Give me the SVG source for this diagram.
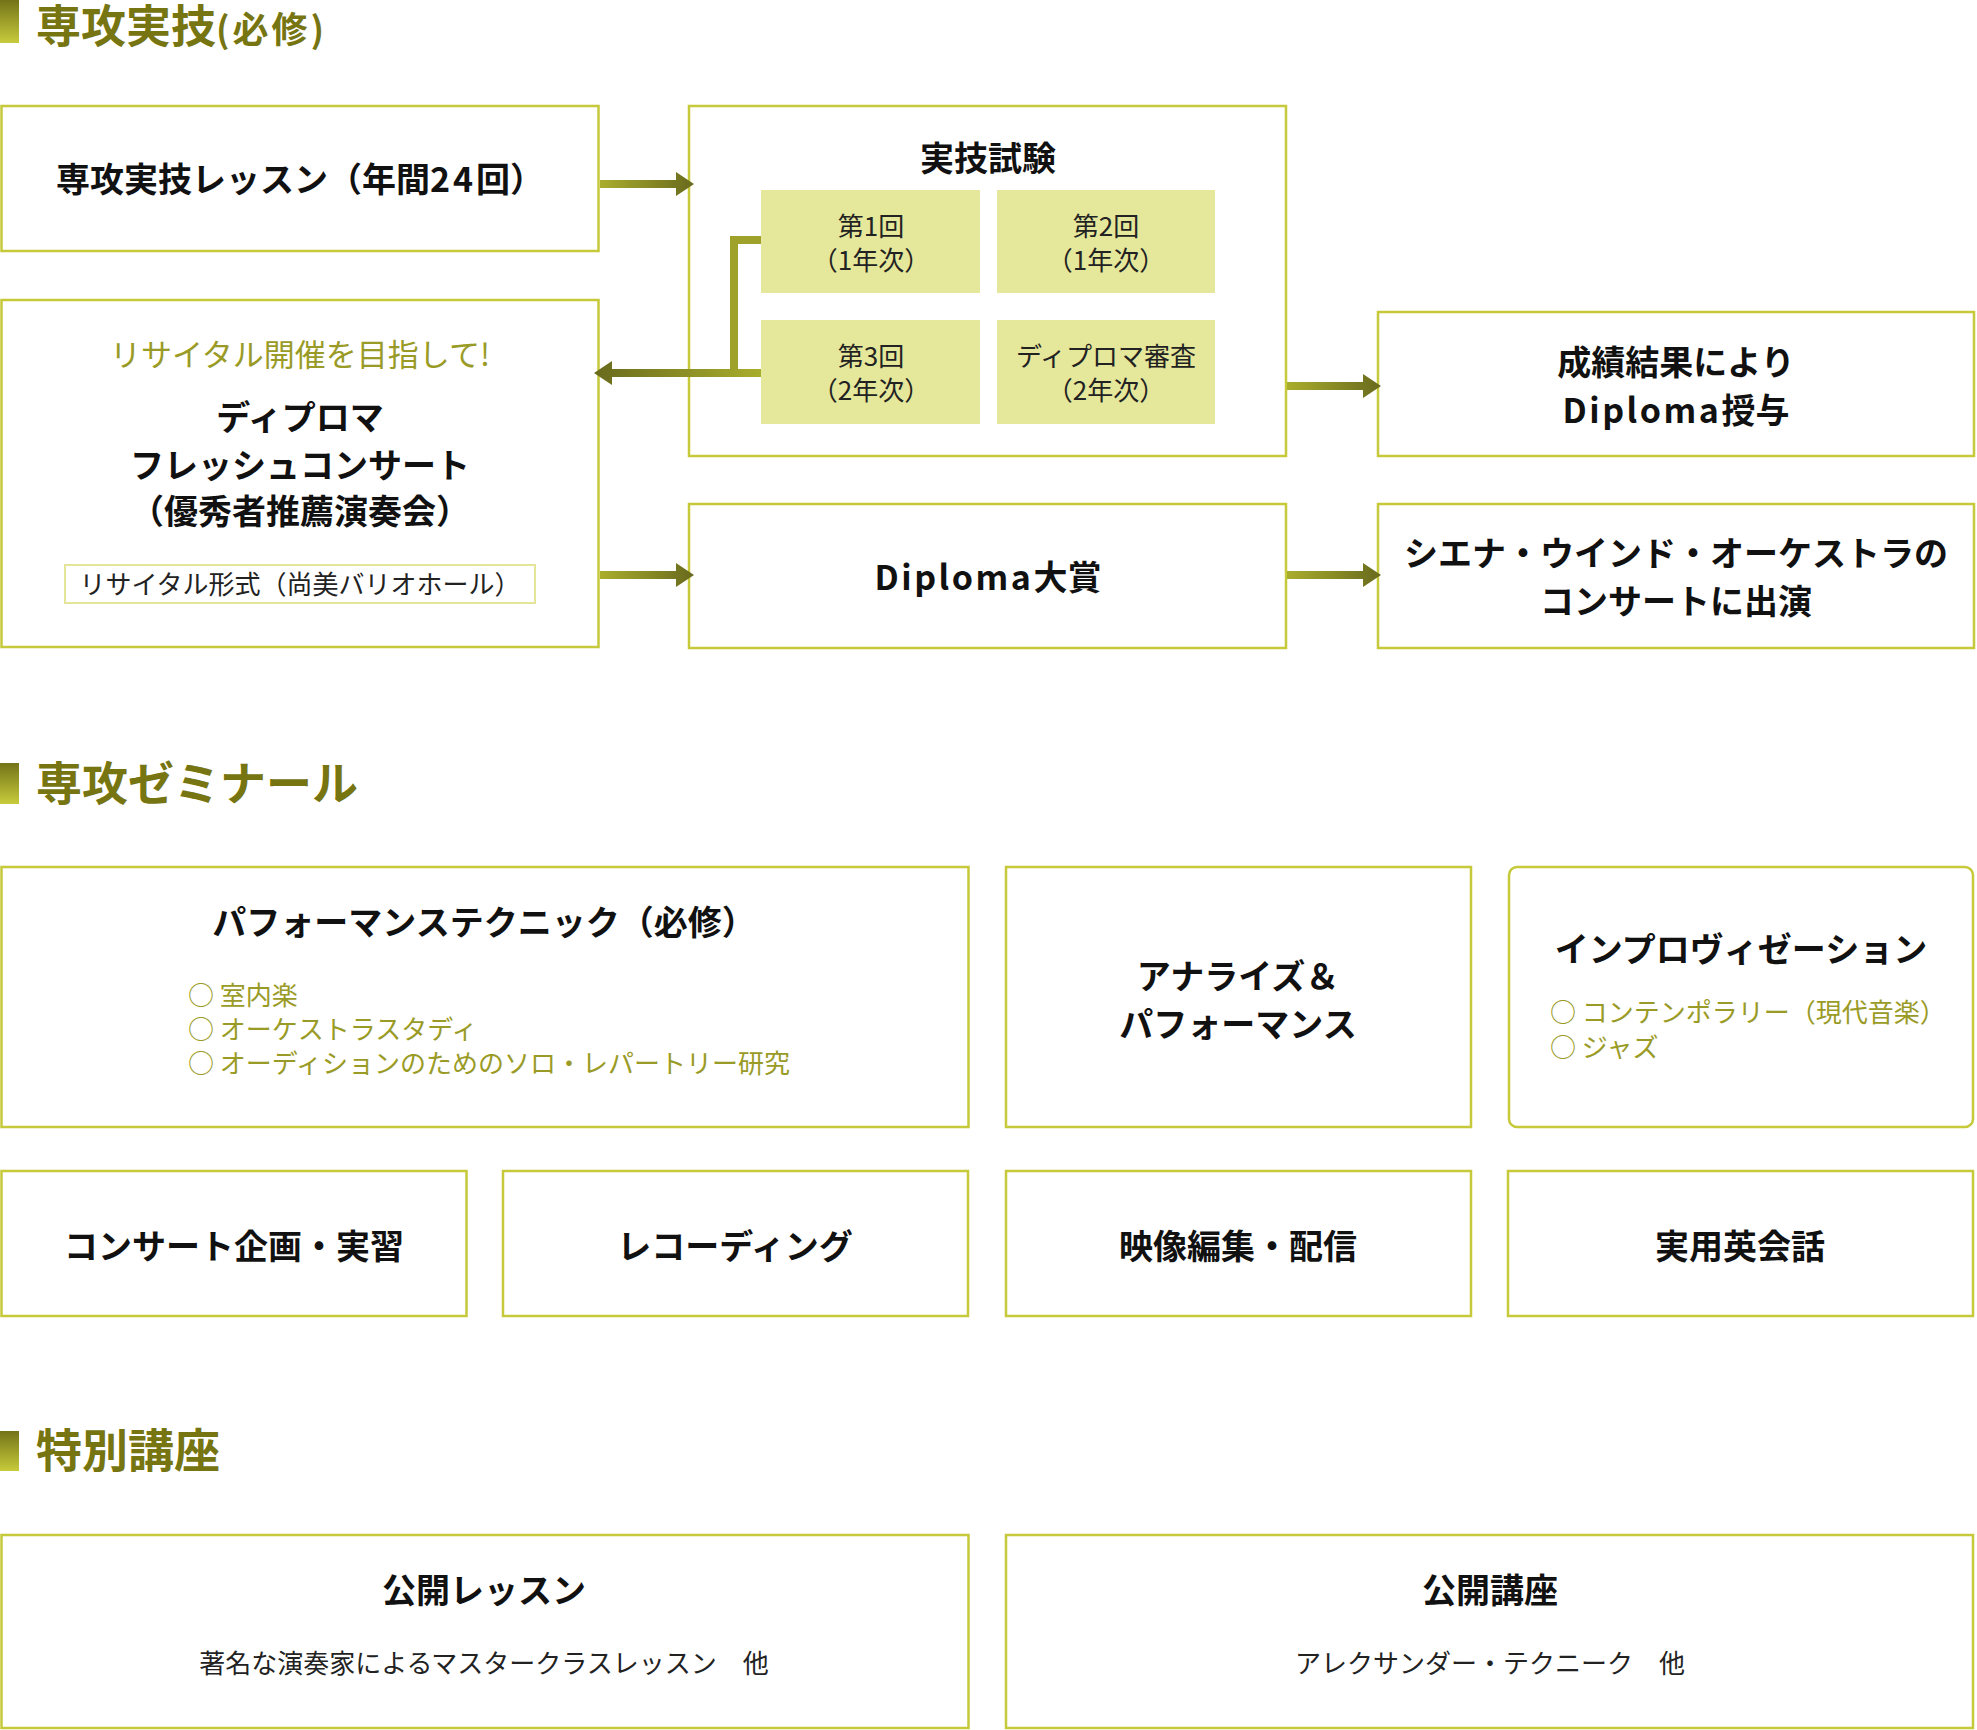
<svg xmlns="http://www.w3.org/2000/svg" width="1977" height="1730" viewBox="0 0 1977 1730">
<style>
.box{fill:#fff;stroke:#c5c93a;stroke-width:2.5}
.cell{fill:#e5e79b}
.sub{fill:#fff;stroke:#e2e59a;stroke-width:2}
.h{font-family:"Noto Sans CJK JP","Noto Sans",sans-serif;font-weight:700;fill:#767512}
.b{font-family:"Noto Sans CJK JP","Noto Sans",sans-serif;font-weight:700;font-size:34px;fill:#111;text-anchor:middle}
.r{font-family:"Noto Sans CJK JP","Noto Sans",sans-serif;font-weight:400;font-size:26px;fill:#222;text-anchor:middle}
.o{font-family:"Noto Sans CJK JP","Noto Sans",sans-serif;font-weight:400;font-size:26px;fill:#9a9b26}
.lat{letter-spacing:2.5px}
</style>
<defs>
<linearGradient id="bar" x1="0" y1="0" x2="0" y2="1"><stop offset="0" stop-color="#737318"/><stop offset="1" stop-color="#c7cb3b"/></linearGradient>
<linearGradient id="ar" x1="0" y1="0" x2="1" y2="0"><stop offset="0" stop-color="#a9ad2c"/><stop offset="1" stop-color="#696a1d"/></linearGradient>
<linearGradient id="al" x1="1" y1="0" x2="0" y2="0"><stop offset="0" stop-color="#a9ad2c"/><stop offset="1" stop-color="#696a1d"/></linearGradient>
</defs>
<rect width="1977" height="1730" fill="#fff"/>

<g id="heading1">
<rect x="0" y="0" width="19" height="43" fill="url(#bar)"/>
<text class="h" x="36" y="43" font-size="45">専攻実技<tspan font-size="36" letter-spacing="3px">(必修)</tspan></text>
</g>
<g id="heading2">
<rect x="0" y="763" width="19" height="41" fill="url(#bar)"/>
<text class="h" x="36" y="800" font-size="46">専攻ゼミナール</text>
</g>
<g id="heading3">
<rect x="0" y="1431" width="19" height="40" fill="url(#bar)"/>
<text class="h" x="36" y="1467" font-size="46">特別講座</text>
</g>

<g id="lesson">
<rect class="box" x="1.5" y="106" width="597" height="145"/>
<text class="b" x="300" y="192">専攻実技レッスン（年間<tspan letter-spacing="3px">24</tspan>回）</text>
</g>

<g id="exam">
<rect class="box" x="689" y="106" width="597" height="350"/>
<text class="b" x="988" y="171">実技試験</text>
<rect class="cell" x="761" y="190" width="219" height="103"/>
<rect class="cell" x="997" y="190" width="218" height="103"/>
<rect class="cell" x="761" y="320" width="219" height="104"/>
<rect class="cell" x="997" y="320" width="218" height="104"/>
<text class="r" x="871" y="236">第1回</text>
<text class="r" x="871" y="270">（1年次）</text>
<text class="r" x="1106" y="236">第2回</text>
<text class="r" x="1106" y="270">（1年次）</text>
<text class="r" x="871" y="366">第3回</text>
<text class="r" x="871" y="400">（2年次）</text>
<text class="r" x="1106" y="366">ディプロマ審査</text>
<text class="r" x="1106" y="400">（2年次）</text>
</g>

<g id="recital">
<rect class="box" x="1.5" y="300" width="597" height="347"/>
<text class="o" x="300" y="366" style="font-size:31px;text-anchor:middle">リサイタル開催を目指して!</text>
<text class="b" x="300" y="430">ディプロマ</text>
<text class="b" x="300" y="478">フレッシュコンサート</text>
<text class="b" x="300" y="524">（優秀者推薦演奏会）</text>
<rect class="sub" x="65" y="565" width="470" height="38"/>
<text class="r" x="300" y="594">リサイタル形式（尚美バリオホール）</text>
</g>

<g id="award">
<rect class="box" x="689" y="504" width="597" height="144"/>
<text class="b" x="988" y="590"><tspan class="lat">Diploma</tspan>大賞</text>
</g>

<g id="diploma">
<rect class="box" x="1378" y="312" width="596" height="144"/>
<text class="b" x="1676" y="375">成績結果により</text>
<text class="b" x="1676" y="423"><tspan class="lat">Diploma</tspan>授与</text>
</g>

<g id="siena">
<rect class="box" x="1378" y="504" width="596" height="144"/>
<text class="b" x="1676" y="566">シエナ・ウインド・オーケストラの</text>
<text class="b" x="1676" y="614">コンサートに出演</text>
</g>

<g id="connectors">
<path d="M600,180 H676 V172 L694,184 L676,196 V188 H600 Z" fill="url(#ar)"/>
<path d="M1287,382 H1363 V374 L1381,386 L1363,398 V390 H1287 Z" fill="url(#ar)"/>
<path d="M600,571 H676 V563 L694,575 L676,587 V579 H600 Z" fill="url(#ar)"/>
<path d="M1287,571 H1363 V563 L1381,575 L1363,587 V579 H1287 Z" fill="url(#ar)"/>
<path d="M761,240 H734 V373" fill="none" stroke="#9fa22a" stroke-width="8"/>
<path d="M761,369 H612 V361 L594,373 L612,385 V377 H761 Z" fill="url(#al)"/>
</g>

<g id="perf">
<rect class="box" x="1.5" y="867" width="967" height="260"/>
<text class="b" x="484" y="935">パフォーマンステクニック（必修）</text>
<text class="o" x="188" y="1005">○ 室内楽</text>
<text class="o" x="188" y="1039">○ オーケストラスタディ</text>
<text class="o" x="188" y="1073">○ オーディションのためのソロ・レパートリー研究</text>
</g>

<g id="analyze">
<rect class="box" x="1006" y="867" width="465" height="260"/>
<text class="b" x="1238" y="989">アナライズ＆</text>
<text class="b" x="1238" y="1037">パフォーマンス</text>
</g>

<g id="improv">
<rect class="box" x="1509" y="867" width="464" height="260" rx="8"/>
<text class="b" x="1741" y="962">インプロヴィゼーション</text>
<text class="o" x="1550" y="1022">○ コンテンポラリー（現代音楽）</text>
<text class="o" x="1550" y="1057">○ ジャズ</text>
</g>

<g id="concert">
<rect class="box" x="1.5" y="1171" width="465" height="145"/>
<text class="b" x="234" y="1259">コンサート企画・実習</text>
</g>
<g id="recording">
<rect class="box" x="503" y="1171" width="465" height="145"/>
<text class="b" x="735" y="1259">レコーディング</text>
</g>
<g id="video">
<rect class="box" x="1006" y="1171" width="465" height="145"/>
<text class="b" x="1238" y="1259">映像編集・配信</text>
</g>
<g id="english">
<rect class="box" x="1508" y="1171" width="465" height="145"/>
<text class="b" x="1740" y="1259">実用英会話</text>
</g>

<g id="openlesson">
<rect class="box" x="1.5" y="1535" width="967" height="193"/>
<text class="b" x="484" y="1603">公開レッスン</text>
<text class="r" x="484" y="1673">著名な演奏家によるマスタークラスレッスン　他</text>
</g>
<g id="openlecture">
<rect class="box" x="1006" y="1535" width="967" height="193"/>
<text class="b" x="1490" y="1603">公開講座</text>
<text class="r" x="1490" y="1673">アレクサンダー・テクニーク　他</text>
</g>
</svg>
